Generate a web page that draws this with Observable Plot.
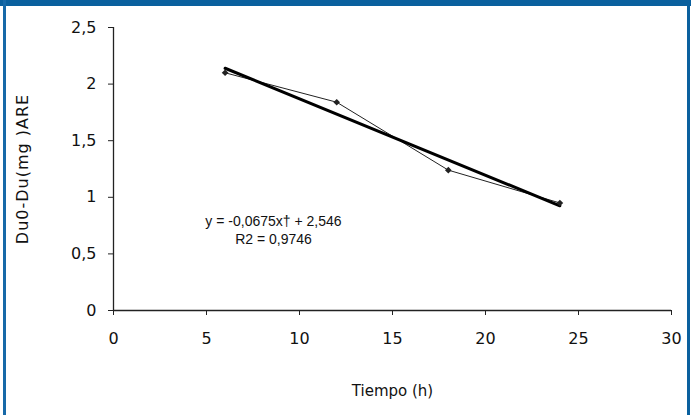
<!DOCTYPE html>
<html>
<head>
<meta charset="utf-8">
<script src="https://cdn.jsdelivr.net/npm/d3@7"></script>
<script src="https://cdn.jsdelivr.net/npm/@observablehq/plot@0.6"></script>
<style>
  html, body { margin: 0; padding: 0; background: #fff; }
  #wrap { position: relative; width: 691px; height: 415px; overflow: hidden; background: #fff; }
  .bar { position: absolute; background: #0a609e; }
</style>
</head>
<body>
<div id="wrap">
  <div id="chart"></div>
  <div class="bar" style="left:0;top:0;width:691px;height:6px;"></div>
  <div class="bar" style="left:3px;top:0;width:3px;height:415px;background:#1769a8;"></div>
  <div class="bar" style="left:687px;top:0;width:3px;height:415px;"></div>
</div>
<script>
const tiempo = [6, 12, 18, 24];
const du = [2.10, 1.84, 1.24, 0.95];
const yTicks = [0, 0.5, 1, 1.5, 2, 2.5];
const xTicks = [0, 5, 10, 15, 20, 25, 30];
const equationText = "y = -0,0675x\u2020 + 2,546\nR2 = 0,9746";
const xLabel = "Tiempo (h)";
const yLabel = "Du0-Du(mg )ARE";

const data = tiempo.map((t, i) => ({t, v: du[i]}));
const comma = d => String(d).replace(".", ",");
const F = "DejaVu Sans, Verdana, sans-serif";

const chart = Plot.plot({
  width: 691,
  height: 415,
  marginLeft: 113,
  marginRight: 20,
  marginTop: 27,
  marginBottom: 105,
  style: {fontFamily: F, fontSize: "15px", color: "#111", background: "transparent"},
  x: {domain: [0, 30]},
  y: {domain: [0, 2.5]},
  marks: [
    Plot.axisX({ticks: xTicks, tickSize: 5, tickPadding: 17, tickFormat: comma, label: null, stroke: "#222", fontSize: 16, fontFamily: F, fill: "#111"}),
    Plot.axisY({ticks: yTicks, tickSize: 5, tickPadding: 12, tickFormat: comma, label: null, stroke: "#222", fontSize: 16, fontFamily: F, fill: "#111"}),
    Plot.ruleY([0], {stroke: "#222", strokeWidth: 1.3}),
    Plot.ruleX([0], {stroke: "#222", strokeWidth: 1.3}),
    Plot.line(data, {x: "t", y: "v", stroke: "#222", strokeWidth: 1}),
    Plot.linearRegressionY(data, {x: "t", y: "v", stroke: "#000", strokeWidth: 3, ci: 0}),
    Plot.dot(data, {x: "t", y: "v", symbol: "diamond2", r: 3, fill: "#222", stroke: "none"}),
    Plot.text([equationText], {x: 8.6, y: 0.72, text: d => d, textAnchor: "middle", lineHeight: 1.3, fontFamily: "Liberation Sans, Arial, sans-serif", fontSize: 14, fill: "#111"}),
    Plot.text([xLabel], {frameAnchor: "bottom", dy: 85, text: d => d, fontSize: 15, fontFamily: F, fill: "#111"}),
    Plot.text([yLabel], {frameAnchor: "left", textAnchor: "middle", dx: -91, rotate: -90, text: d => d, fontSize: 16, fontFamily: F, fill: "#111"})
  ]
});
document.getElementById("chart").appendChild(chart);
d3.select(chart).selectAll("text").filter(function() { return this.textContent === yLabel; }).style("letter-spacing", "1px");
</script>
</body>
</html>
